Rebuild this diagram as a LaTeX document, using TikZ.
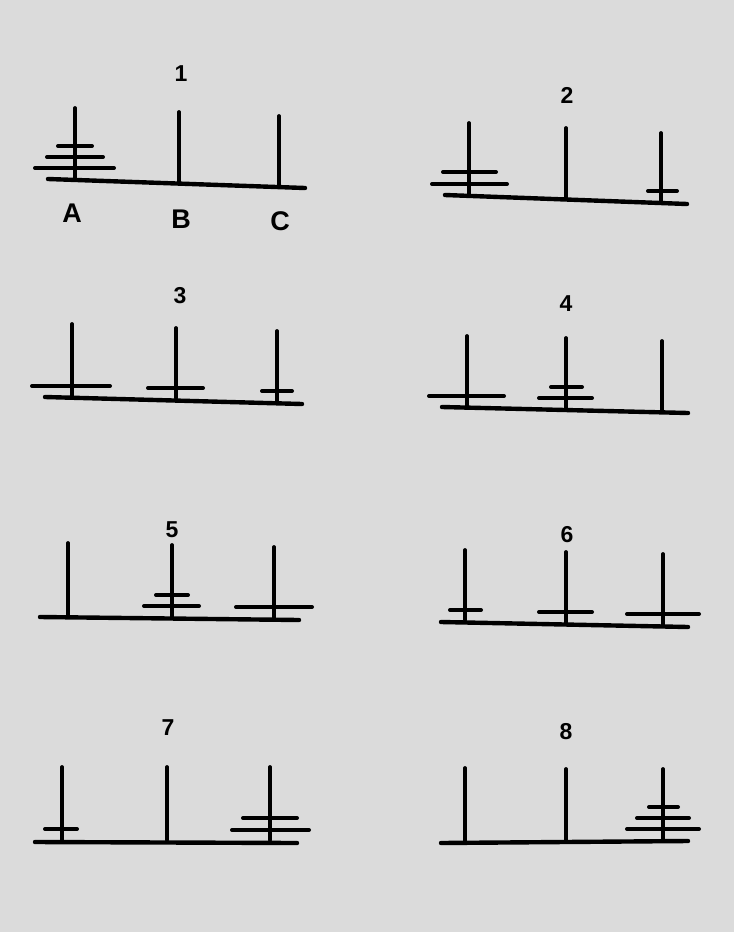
\documentclass[tikz,border=0pt]{standalone}
\usepackage{fontspec}
\setmainfont{Liberation Sans}
\begin{document}
\begin{tikzpicture}[x=1pt,y=-1pt,
  peg/.style={line width=3.8pt,line cap=round},
  disc/.style={line width=4pt,line cap=round},
  baseline/.style={line width=4.4pt,line cap=round},
  num/.style={font=\fontsize{23}{23}\selectfont\bfseries},
  lab/.style={font=\fontsize{27}{27}\selectfont\bfseries}]
\fill[black!14!white] (0,0) rectangle (734,932);
\useasboundingbox (0,0) rectangle (734,932);
% Panel 1
\node[num] (n1) at (181,74) {1};
\draw[baseline] (48,179) -- (305,188);
\draw[peg] (75,108) -- (75,180);
\draw[peg] (179,112) -- (179,183);
\draw[peg] (279,116) -- (279,187);
\draw[disc] (58,146) -- (92,146);
\draw[disc] (47,157) -- (103,157);
\draw[disc] (35,168) -- (114,168);
\node[lab] (la) at (72,213) {A};
\node[lab] (lb) at (181,219) {B};
\node[lab] (lc) at (280,221) {C};
% Panel 2
\node[num] (n2) at (567,95) {2};
\draw[baseline] (445,195) -- (687,204);
\draw[peg] (469,123) -- (469,195);
\draw[peg] (566,128) -- (566,198);
\draw[peg] (661,133) -- (661,202);
\draw[disc] (443,172) -- (496,172);
\draw[disc] (432,184) -- (507,184);
\draw[disc] (648,191) -- (677,191);
% Panel 3
\node[num] (n3) at (180,296) {3};
\draw[baseline] (45,397) -- (302,404);
\draw[peg] (72,324) -- (72,397);
\draw[peg] (176,328) -- (176,398);
\draw[peg] (277,331) -- (277,402);
\draw[disc] (32,386) -- (110,386);
\draw[disc] (148,388) -- (203,388);
\draw[disc] (262,391) -- (292,391);
% Panel 4
\node[num] (n4) at (566,304) {4};
\draw[baseline] (442,407) -- (688,413);
\draw[peg] (467,336) -- (467,407);
\draw[peg] (566,338) -- (566,408);
\draw[peg] (662,341) -- (662,412);
\draw[disc] (429,396) -- (504,396);
\draw[disc] (551,387) -- (582,387);
\draw[disc] (539,398) -- (592,398);
% Panel 5
\node[num] (n5) at (172,530) {5};
\draw[baseline] (40,617) -- (299,620);
\draw[peg] (68,543) -- (68,617);
\draw[peg] (172,545) -- (172,617);
\draw[peg] (274,547) -- (274,618);
\draw[disc] (156,595) -- (188,595);
\draw[disc] (144,606) -- (199,606);
\draw[disc] (236,607) -- (312,607);
% Panel 6
\node[num] (n6) at (567,535) {6};
\draw[baseline] (441,622) -- (688,627);
\draw[peg] (465,550) -- (465,620);
\draw[peg] (566,552) -- (566,623);
\draw[peg] (663,554) -- (663,625);
\draw[disc] (450,610) -- (481,610);
\draw[disc] (539,612) -- (592,612);
\draw[disc] (627,614) -- (699,614);
% Panel 7
\node[num] (n7) at (168,728) {7};
\draw[baseline] (35,842) -- (297,843);
\draw[peg] (62,767) -- (62,840);
\draw[peg] (167,767) -- (167,840);
\draw[peg] (270,767) -- (270,840);
\draw[disc] (45,829) -- (77,829);
\draw[disc] (243,818) -- (297,818);
\draw[disc] (232,830) -- (309,830);
% Panel 8
\node[num] (n8) at (566,732) {8};
\draw[baseline] (441,843) -- (688,841);
\draw[peg] (465,768) -- (465,842);
\draw[peg] (566,769) -- (566,842);
\draw[peg] (663,769) -- (663,840);
\draw[disc] (649,807) -- (678,807);
\draw[disc] (637,818) -- (689,818);
\draw[disc] (627,829) -- (699,829);
\end{tikzpicture}
\end{document}
